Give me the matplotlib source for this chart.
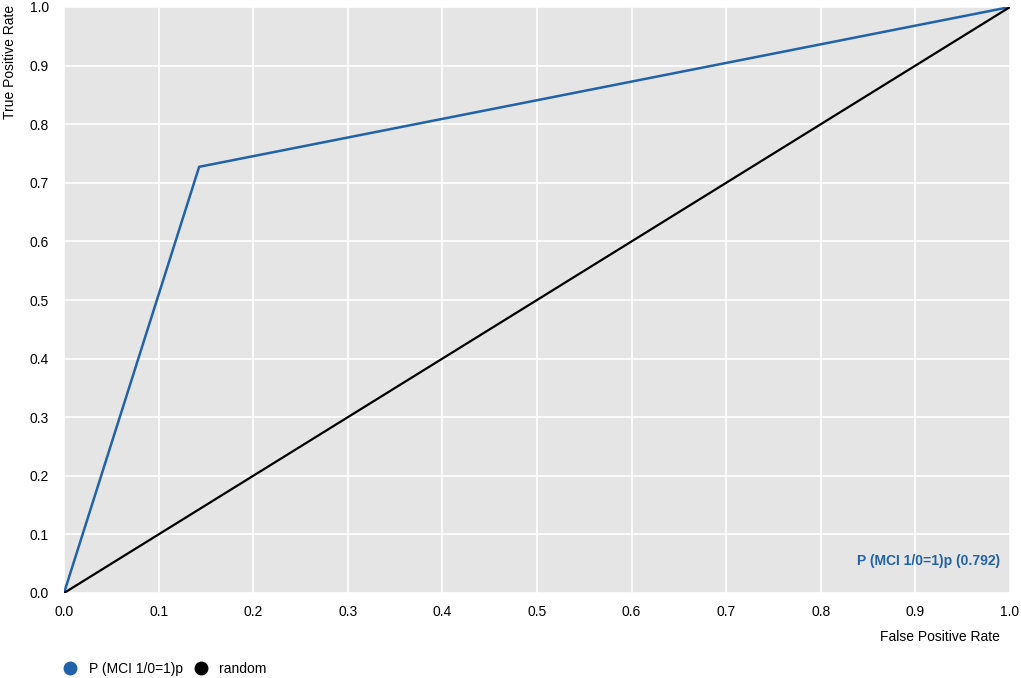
from matplotlib import pyplot as plt
from matplotlib.lines import Line2D
import numpy as np

plt.rcParams['font.family'] = ['Liberation Sans', 'DejaVu Sans']

# ROC points
fpr = [0.0, 1 / 7, 1.0]
tpr = [0.0, 8 / 11, 1.0]
rand_x = [0.0, 1.0]
rand_y = [0.0, 1.0]
auc_label = 'P (MCI 1/0=1)p (0.792)'
series_names = ['P (MCI 1/0=1)p', 'random']
ticks = np.round(np.arange(0, 1.01, 0.1), 1)

blue = '#2162a8'
fs = 10

fig = plt.figure(figsize=(10.21, 6.78), dpi=100)
ax = fig.add_axes([64 / 1021, 85 / 678, 946 / 1021, 586 / 678])
ax.set_facecolor('#e5e5e5')
ax.plot(fpr, tpr, color=blue, lw=1.8, zorder=3)
ax.plot(rand_x, rand_y, color='black', lw=1.6, zorder=3)
ax.set_xlim(0, 1)
ax.set_ylim(0, 1)
ax.set_xticks(ticks)
ax.set_yticks(ticks)
ax.set_xticklabels([f'{t:.1f}' for t in ticks])
ax.set_yticklabels([f'{t:.1f}' for t in ticks])
ax.grid(color='white', lw=1.2)
ax.set_axisbelow(True)
for s in ax.spines.values():
    s.set_visible(False)
ax.tick_params(length=0, labelsize=fs, pad=9)
ax.tick_params(axis='y', pad=11)

ax.text(0.99, 0.055, auc_label, transform=ax.transAxes, ha='right', va='center',
        color=blue, fontsize=fs, fontweight='bold')

fig.text(10 / 1021, 1 - 5 / 678, 'True Positive Rate', rotation=90, ha='center',
         va='top', fontsize=fs)
fig.text(1000 / 1021, 1 - 637 / 678, 'False Positive Rate', ha='right',
         va='center', fontsize=fs)

handles = [Line2D([], [], marker='o', ls='', color=blue, markersize=9),
           Line2D([], [], marker='o', ls='', color='black', markersize=9)]
fig.legend(handles, series_names, loc='center left',
           bbox_to_anchor=(47 / 1021, 1 - 669 / 678), ncol=2, frameon=False,
           fontsize=fs, handletextpad=0.6, columnspacing=0.55, handlelength=1.5)

fig.savefig('out.png', dpi=100)
